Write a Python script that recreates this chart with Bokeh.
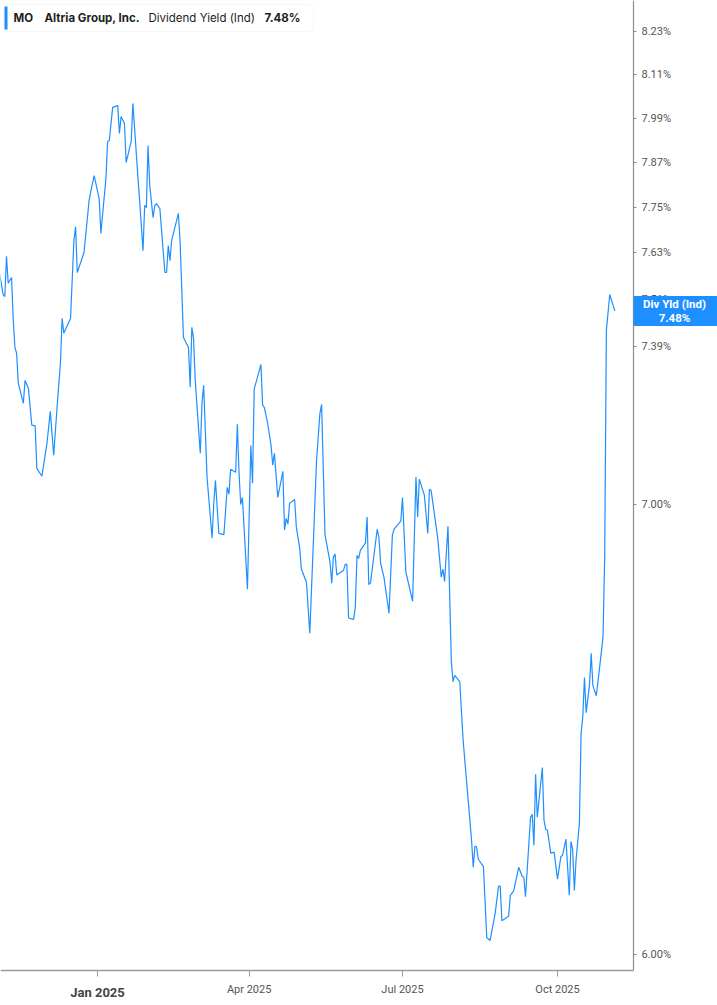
import pandas as pd
from bokeh.plotting import figure
from bokeh.models import (FixedTicker, PrintfTickFormatter, Range1d, Label,
                          BoxAnnotation, CustomJSTickFormatter)
from bokeh.embed import file_html
from bokeh.resources import INLINE

# ---------------- data ----------------
dates = [
    "2024-11-04", "2024-11-06", "2024-11-07", "2024-11-08", "2024-11-09", "2024-11-11",
    "2024-11-12", "2024-11-13", "2024-11-14", "2024-11-15", "2024-11-18", "2024-11-19",
    "2024-11-21", "2024-11-23", "2024-11-25", "2024-11-26", "2024-11-29", "2024-12-02",
    "2024-12-04", "2024-12-06", "2024-12-08", "2024-12-10", "2024-12-11", "2024-12-12",
    "2024-12-16", "2024-12-18", "2024-12-19", "2024-12-20", "2024-12-24", "2024-12-27",
    "2024-12-28", "2024-12-30", "2025-01-02", "2025-01-03", "2025-01-06", "2025-01-07",
    "2025-01-08", "2025-01-10", "2025-01-13", "2025-01-14", "2025-01-15", "2025-01-17",
    "2025-01-18", "2025-01-21", "2025-01-22", "2025-01-25", "2025-01-26", "2025-01-28",
    "2025-01-29", "2025-01-30", "2025-01-31", "2025-02-01", "2025-02-03", "2025-02-04",
    "2025-02-05", "2025-02-07", "2025-02-10", "2025-02-11", "2025-02-12", "2025-02-13",
    "2025-02-14", "2025-02-18", "2025-02-19", "2025-02-21", "2025-02-24", "2025-02-25",
    "2025-02-26", "2025-02-27", "2025-02-28", "2025-03-03", "2025-03-04", "2025-03-05",
    "2025-03-07", "2025-03-10", "2025-03-11", "2025-03-12", "2025-03-14", "2025-03-17",
    "2025-03-19", "2025-03-20", "2025-03-21", "2025-03-24", "2025-03-25", "2025-03-26",
    "2025-03-27", "2025-03-28", "2025-03-31", "2025-04-02", "2025-04-03", "2025-04-04",
    "2025-04-08", "2025-04-09", "2025-04-10", "2025-04-12", "2025-04-14", "2025-04-15",
    "2025-04-16", "2025-04-18", "2025-04-21", "2025-04-22", "2025-04-23", "2025-04-24",
    "2025-04-25", "2025-04-28", "2025-04-29", "2025-05-01", "2025-05-02", "2025-05-05",
    "2025-05-07", "2025-05-11", "2025-05-13", "2025-05-14", "2025-05-16", "2025-05-19",
    "2025-05-20", "2025-05-21", "2025-05-22", "2025-05-23", "2025-05-27", "2025-05-28",
    "2025-05-29", "2025-05-30", "2025-06-02", "2025-06-03", "2025-06-04", "2025-06-05",
    "2025-06-06", "2025-06-09", "2025-06-10", "2025-06-11", "2025-06-12", "2025-06-16",
    "2025-06-17", "2025-06-18", "2025-06-20", "2025-06-23", "2025-06-25", "2025-06-26",
    "2025-06-30", "2025-07-01", "2025-07-03", "2025-07-07", "2025-07-09", "2025-07-10",
    "2025-07-11", "2025-07-14", "2025-07-16", "2025-07-17", "2025-07-18", "2025-07-22",
    "2025-07-24", "2025-07-25", "2025-07-26", "2025-07-28", "2025-07-30", "2025-07-31",
    "2025-08-01", "2025-08-04", "2025-08-06", "2025-08-09", "2025-08-11", "2025-08-12",
    "2025-08-13", "2025-08-14", "2025-08-15", "2025-08-18", "2025-08-19", "2025-08-20",
    "2025-08-22", "2025-08-25", "2025-08-27", "2025-08-28", "2025-08-29", "2025-09-02",
    "2025-09-03", "2025-09-05", "2025-09-08", "2025-09-10", "2025-09-11", "2025-09-12",
    "2025-09-15", "2025-09-16", "2025-09-17", "2025-09-18", "2025-09-19", "2025-09-22",
    "2025-09-23", "2025-09-24", "2025-09-25", "2025-09-27", "2025-09-29", "2025-10-01",
    "2025-10-03", "2025-10-04", "2025-10-06", "2025-10-08", "2025-10-09", "2025-10-10",
    "2025-10-11", "2025-10-12", "2025-10-14", "2025-10-15", "2025-10-16", "2025-10-17",
    "2025-10-18", "2025-10-20", "2025-10-21", "2025-10-22", "2025-10-24", "2025-10-26",
    "2025-10-28", "2025-10-29", "2025-10-30", "2025-11-01", "2025-11-04",
]

div_yield = [
    7.574, 7.522, 7.517, 7.621, 7.551, 7.566,
    7.456, 7.387, 7.372, 7.297, 7.247, 7.304,
    7.284, 7.193, 7.191, 7.087, 7.068, 7.148,
    7.227, 7.119, 7.237, 7.347, 7.461, 7.423,
    7.461, 7.662, 7.699, 7.579, 7.631, 7.768,
    7.792, 7.835, 7.773, 7.681, 7.827, 7.927,
    7.929, 8.020, 8.025, 7.949, 7.995, 7.976,
    7.870, 7.927, 8.031, 7.830, 7.768, 7.636,
    7.755, 7.750, 7.916, 7.808, 7.723, 7.755,
    7.760, 7.747, 7.579, 7.579, 7.649, 7.610,
    7.662, 7.734, 7.662, 7.412, 7.387, 7.287,
    7.438, 7.410, 7.304, 7.124, 7.247, 7.292,
    7.066, 6.920, 7.003, 7.058, 6.931, 6.928,
    7.041, 7.025, 7.085, 7.078, 7.195, 7.076,
    7.000, 7.017, 6.800, 7.143, 7.051, 7.282,
    7.344, 7.242, 7.237, 7.197, 7.143, 7.095,
    7.124, 7.017, 7.080, 6.939, 6.967, 6.953,
    7.003, 7.012, 6.946, 6.896, 6.847, 6.816,
    6.698, 7.107, 7.222, 7.244, 6.928, 6.863,
    6.814, 6.875, 6.882, 6.833, 6.844, 6.858,
    6.858, 6.733, 6.730, 6.758, 6.879, 6.872,
    6.891, 6.908, 6.970, 6.811, 6.814, 6.941,
    6.922, 6.861, 6.828, 6.744, 6.927, 6.941,
    6.960, 7.017, 6.840, 6.772, 7.066, 6.970,
    7.061, 7.022, 6.931, 7.037, 7.034, 6.917,
    6.828, 6.847, 6.818, 6.948, 6.632, 6.588,
    6.602, 6.588, 6.456, 6.325, 6.239, 6.182,
    6.227, 6.225, 6.199, 6.184, 6.112, 6.035,
    6.029, 6.085, 6.142, 6.142, 6.070, 6.079,
    6.123, 6.132, 6.182, 6.163, 6.161, 6.120,
    6.289, 6.295, 6.229, 6.382, 6.289, 6.397,
    6.282, 6.263, 6.261, 6.212, 6.214, 6.157,
    6.205, 6.207, 6.242, 6.123, 6.237, 6.220,
    6.133, 6.197, 6.276, 6.472, 6.509, 6.597,
    6.518, 6.581, 6.652, 6.579, 6.556, 6.620,
    6.689, 6.875, 7.430, 7.522, 7.48,
]

y_ticks = [6.00, 7.00, 7.39, 7.51, 7.63, 7.75, 7.87, 7.99, 8.11, 8.23]
x_tick_dates = ["2025-01-01", "2025-04-01", "2025-07-01", "2025-10-01"]
x_tick_labels = ["", "Apr 2025", "Jul 2025", "Oct 2025"]
year_label = "Jan 2025"

ticker_symbol = "MO"
company = "Altria Group, Inc."
metric = "Dividend Yield (Ind)"
tag_title = "Div Yld (Ind)"

# ---------------- layout ----------------
BLUE = "#1e8fff"
W, H = 717, 1005
AX_X, AX_Y = 633, 970          # pixel column of the value axis / row of the time axis
DAY_MS = 86400000.0
PX_PER_DAY = 1.685
PX_PER_LN = 2919.2             # log-scale density of the value axis

base_ms = pd.Timestamp("2025-01-01").value / 1e6
JAN_PX = 97                    # column of the Jan 2025 tick
x_start = base_ms - JAN_PX / PX_PER_DAY * DAY_MS
x_end = x_start + W / PX_PER_DAY * DAY_MS
import math
SIX_ROW = 954                  # row of the 6.00% tick
y_hi = 6.0 * math.exp(SIX_ROW / PX_PER_LN)
y_lo = 6.0 * math.exp((SIX_ROW - H) / PX_PER_LN)


def x_at_px(px):
    return x_start + px / PX_PER_DAY * DAY_MS


def y_at_row(row):
    return 6.0 * math.exp((SIX_ROW - row) / PX_PER_LN)


def y_shift(v, px):
    return v * math.exp(px / PX_PER_LN)


x = pd.to_datetime(dates)

p = figure(width=W, height=H, output_backend="svg", toolbar_location=None,
           x_axis_type="datetime", y_axis_type="log", y_axis_location="right",
           x_range=Range1d(x_start, x_end), y_range=Range1d(y_lo, y_hi),
           min_border_left=0, min_border_top=0, min_border_right=0,
           min_border_bottom=0)
p.outline_line_color = None
p.xgrid.visible = False
p.ygrid.visible = False
p.background_fill_color = "white"
p.border_fill_color = "white"

p.line(x, div_yield, line_color=BLUE, line_width=1.2)

# right (log) value axis, pinned at its column
yax = p.yaxis[0]
yax.fixed_location = x_at_px(AX_X)
yax.bounds = (y_at_row(AX_Y), y_hi)
yax.ticker = FixedTicker(ticks=y_ticks, minor_ticks=[])
yax.formatter = PrintfTickFormatter(format="%.2f%%")
yax.axis_line_color = "#8a8a8a"
yax.axis_line_width = 1.2
yax.major_tick_line_color = "#8a8a8a"
yax.major_tick_out = 3
yax.major_tick_in = 0
yax.minor_tick_line_color = None
yax.major_label_standoff = 5
yax.major_label_text_font = "Roboto"
yax.major_label_text_font_size = "11px"
yax.major_label_text_color = "#555555"

# bottom time axis, pinned at its row
tick_ms = [pd.Timestamp(d).value / 1e6 for d in x_tick_dates]
xax = p.xaxis[0]
xax.fixed_location = y_at_row(AX_Y)
xax.bounds = (x_start, x_at_px(AX_X))
xax.ticker = FixedTicker(ticks=tick_ms, minor_ticks=[])
xax.formatter = CustomJSTickFormatter(
    args=dict(tvals=tick_ms, tlabels=x_tick_labels),
    code="""
    for (let i = 0; i < tvals.length; i++) {
        if (Math.abs(tvals[i] - tick) < 1000) return tlabels[i];
    }
    return "";
    """)
xax.axis_line_color = "#9a9a9a"
xax.axis_line_width = 1.5
xax.major_tick_line_color = "#9a9a9a"
xax.major_tick_out = 6
xax.major_tick_in = 0
xax.minor_tick_line_color = None
xax.major_label_standoff = 6
xax.major_label_text_font = "Roboto"
xax.major_label_text_font_size = "11px"
xax.major_label_text_color = "#555555"

# bold year label under the first tick
p.add_layout(Label(x=tick_ms[0], x_units="data",
                   y=y_at_row(AX_Y + 22), y_units="data", text=year_label,
                   text_align="center", text_baseline="middle",
                   text_font="Roboto", text_font_size="13px",
                   text_font_style="bold", text_color="#444444"))

# value tag on the right axis
last = div_yield[-1]
p.add_layout(BoxAnnotation(left=x_at_px(AX_X), right=x_at_px(W),
                           bottom=y_shift(last, -15), top=y_shift(last, 15),
                           fill_color=BLUE, fill_alpha=1.0, line_color=None,
                           level="overlay"))
p.add_layout(Label(x=x_at_px((AX_X + W) / 2 - 1), x_units="data", y=last, y_units="data",
                   text=f"{tag_title}\n{last:.2f}%",
                   text_align="center", text_baseline="middle",
                   text_font="Roboto", text_font_size="11.5px",
                   text_line_height=1.05,
                   text_font_style="bold", text_color="white",
                   level="overlay"))

# legend box at top-left
p.add_layout(BoxAnnotation(left=3, right=313, top=H - 4, bottom=H - 31,
                           left_units="screen", right_units="screen",
                           top_units="screen", bottom_units="screen",
                           fill_color="white", fill_alpha=1.0,
                           line_color="#e3e3e3", line_width=1,
                           border_radius=4, level="overlay"))
p.add_layout(BoxAnnotation(left=4, right=7, top=H - 6, bottom=H - 29,
                           left_units="screen", right_units="screen",
                           top_units="screen", bottom_units="screen",
                           fill_color=BLUE, fill_alpha=1.0, line_color=None,
                           level="overlay"))

legend_parts = [
    (ticker_symbol, 13, "bold"),
    (company, 44, "bold"),
    (metric, 148, "normal"),
    (f"{last:.2f}%", 264, "bold"),
]
for txt, lx, style in legend_parts:
    p.add_layout(Label(x=lx, x_units="screen", y=H - 17, y_units="screen",
                       text=txt, text_align="left", text_baseline="middle",
                       text_font="Inter", text_font_size="11.5px",
                       text_font_style=style, text_color="#1d1d1d",
                       level="overlay"))

open("out.html", "w").write(file_html(p, INLINE))
